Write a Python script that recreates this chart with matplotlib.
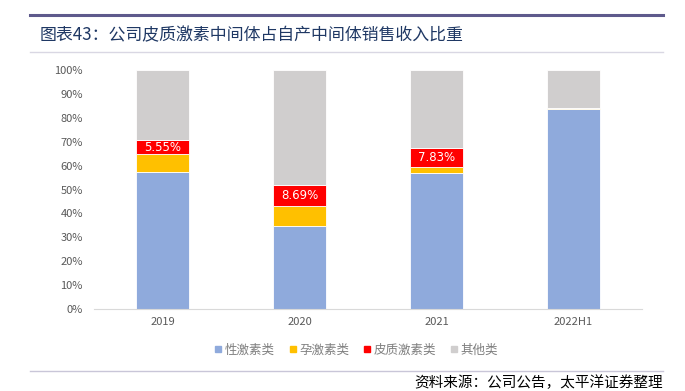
import matplotlib
matplotlib.use("Agg")
import matplotlib.pyplot as plt
import numpy as np
from matplotlib.lines import Line2D

plt.rcParams['font.family'] = ['Noto Sans CJK SC', 'DejaVu Sans']

# data (share of self-produced intermediate sales, %)
years = ['2019', '2020', '2021', '2022H1']
sex_hormone = [57.4, 34.9, 57.0, 83.8]
progestin = [7.6, 8.3, 2.5, 0.3]
corticoid = [5.55, 8.69, 7.83, 0.1]
other = [100 - a - b - c for a, b, c in zip(sex_hormone, progestin, corticoid)]
series_names = ['性激素类', '孕激素类', '皮质激素类', '其他类']
colors = ['#8FAADC', '#FFC000', '#FF0000', '#D0CECE']

fig = plt.figure(figsize=(6.85, 3.91), dpi=100)
ax = fig.add_axes([94 / 685, 1 - 309 / 391, 548 / 685, 239 / 391])

x = np.arange(len(years))
bottom = np.zeros(len(years))
for vals, col in zip([sex_hormone, progestin, corticoid, other], colors):
    ax.bar(x, vals, 0.39, bottom=bottom, color=col, edgecolor='white', linewidth=0.6)
    bottom += np.array(vals)

# labels on the corticoid segment
base = np.array(sex_hormone) + np.array(progestin)
for i, v in enumerate(corticoid):
    if v > 1:
        ax.text(x[i], base[i] + v / 2, '%.2f%%' % v, ha='center', va='center',
                color='white', fontsize=8.5, family=['DejaVu Sans'])

ax.set_xlim(-0.5, len(years) - 0.5)
ax.set_ylim(0, 100)
ax.set_yticks(np.arange(0, 101, 10))
ax.set_yticklabels(['%d%%' % v for v in range(0, 101, 10)])
ax.set_xticks(x)
ax.set_xticklabels(years)
ax.tick_params(axis='both', length=0, labelsize=8, colors='#595959', pad=6)
ax.tick_params(axis='y', pad=8)
for s in ['top', 'right', 'left']:
    ax.spines[s].set_visible(False)
ax.spines['bottom'].set_color('#D9D9D9')

handles = [Line2D([], [], marker='s', linestyle='', color=c, markersize=5) for c in colors]
fig.legend(handles, series_names, loc='center', bbox_to_anchor=(355 / 685, 1 - 350 / 391),
           ncol=4, frameon=False, fontsize=9, labelcolor='#7F7F7F',
           handletextpad=0.05, columnspacing=0.9, handlelength=1.0)

# title and frame lines
fig.add_artist(Line2D([30 / 685, 663 / 685], [1 - 15 / 391] * 2, color='#5E5A8C', linewidth=2.2))
fig.add_artist(Line2D([30 / 685, 663 / 685], [1 - 52 / 391] * 2, color='#D9D7E3', linewidth=1))
fig.add_artist(Line2D([30 / 685, 663 / 685], [1 - 371 / 391] * 2, color='#C9C6D8', linewidth=1))
fig.text(40 / 685, 1 - 35 / 391, '图表43：公司皮质激素中间体占自产中间体销售收入比重',
         fontsize=12.2, color='#1F3864', va='center', ha='left')
fig.text(663 / 685, 1 - 383 / 391, '资料来源：公司公告，太平洋证券整理',
         fontsize=10.5, color='black', va='center', ha='right', style='italic')

fig.savefig('out.png', dpi=100)
